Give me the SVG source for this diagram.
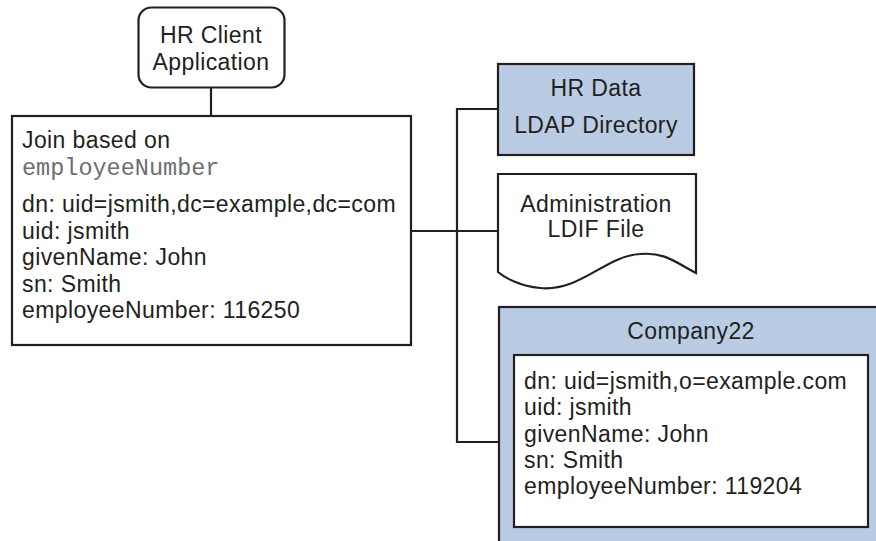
<svg xmlns="http://www.w3.org/2000/svg" width="876" height="541" viewBox="0 0 876 541">
<style>
.t{font-family:"Liberation Sans",Arial,sans-serif;font-size:23px;letter-spacing:0.4px;fill:#231f20}
.m{font-family:"Liberation Mono","Courier New",monospace;font-size:23.5px;fill:#6d6e70}
.c{text-anchor:middle}
.box{fill:#fff;stroke:#231f20;stroke-width:2.2}
.blue{fill:#b9cce4;stroke:#231f20;stroke-width:2.2}
.ln{fill:none;stroke:#231f20;stroke-width:2.2}
</style>
<rect width="876" height="541" fill="#fff"/>
<g id="connectors">
<line class="ln" x1="211" y1="88" x2="211" y2="116"/>
<line class="ln" x1="411" y1="231" x2="498" y2="231"/>
<polyline class="ln" points="498,109 457,109 457,442 514,442"/>
</g>
<g id="hr-client">
<rect class="box" x="138.5" y="7.5" width="146" height="80" rx="13"/>
<text class="t c" x="211" y="43">HR Client</text>
<text class="t c" x="211" y="70">Application</text>
</g>
<g id="join">
<rect class="box" x="12" y="116" width="399" height="229"/>
<text class="t" x="22" y="148">Join based on</text>
<text class="m" x="22" y="175">employeeNumber</text>
<text class="t" x="22" y="212">dn: uid=jsmith,dc=example,dc=com</text>
<text class="t" x="22" y="238.5">uid: jsmith</text>
<text class="t" x="22" y="265">givenName: John</text>
<text class="t" x="22" y="291.5">sn: Smith</text>
<text class="t" x="22" y="318">employeeNumber: 116250</text>
</g>
<g id="hr-data">
<rect class="blue" x="498" y="64" width="196" height="91"/>
<text class="t c" x="596" y="96">HR Data</text>
<text class="t c" x="596" y="133">LDAP Directory</text>
</g>
<g id="admin-ldif">
<path class="box" d="M498,174 H696 V273 C675,262 665,252 640,254 C605,256 580,292 540,288 C520,286 505,278 498,272 Z"/>
<text class="t c" x="596" y="212">Administration</text>
<text class="t c" x="596" y="237">LDIF File</text>
</g>
<g id="company22">
<rect class="blue" x="499" y="307" width="390" height="250"/>
<text class="t c" x="691" y="339">Company22</text>
<rect class="box" x="514" y="355" width="354" height="172"/>
<text class="t" x="524" y="389">dn: uid=jsmith,o=example.com</text>
<text class="t" x="524" y="415">uid: jsmith</text>
<text class="t" x="524" y="442">givenName: John</text>
<text class="t" x="524" y="468">sn: Smith</text>
<text class="t" x="524" y="494">employeeNumber: 119204</text>
</g>
</svg>
